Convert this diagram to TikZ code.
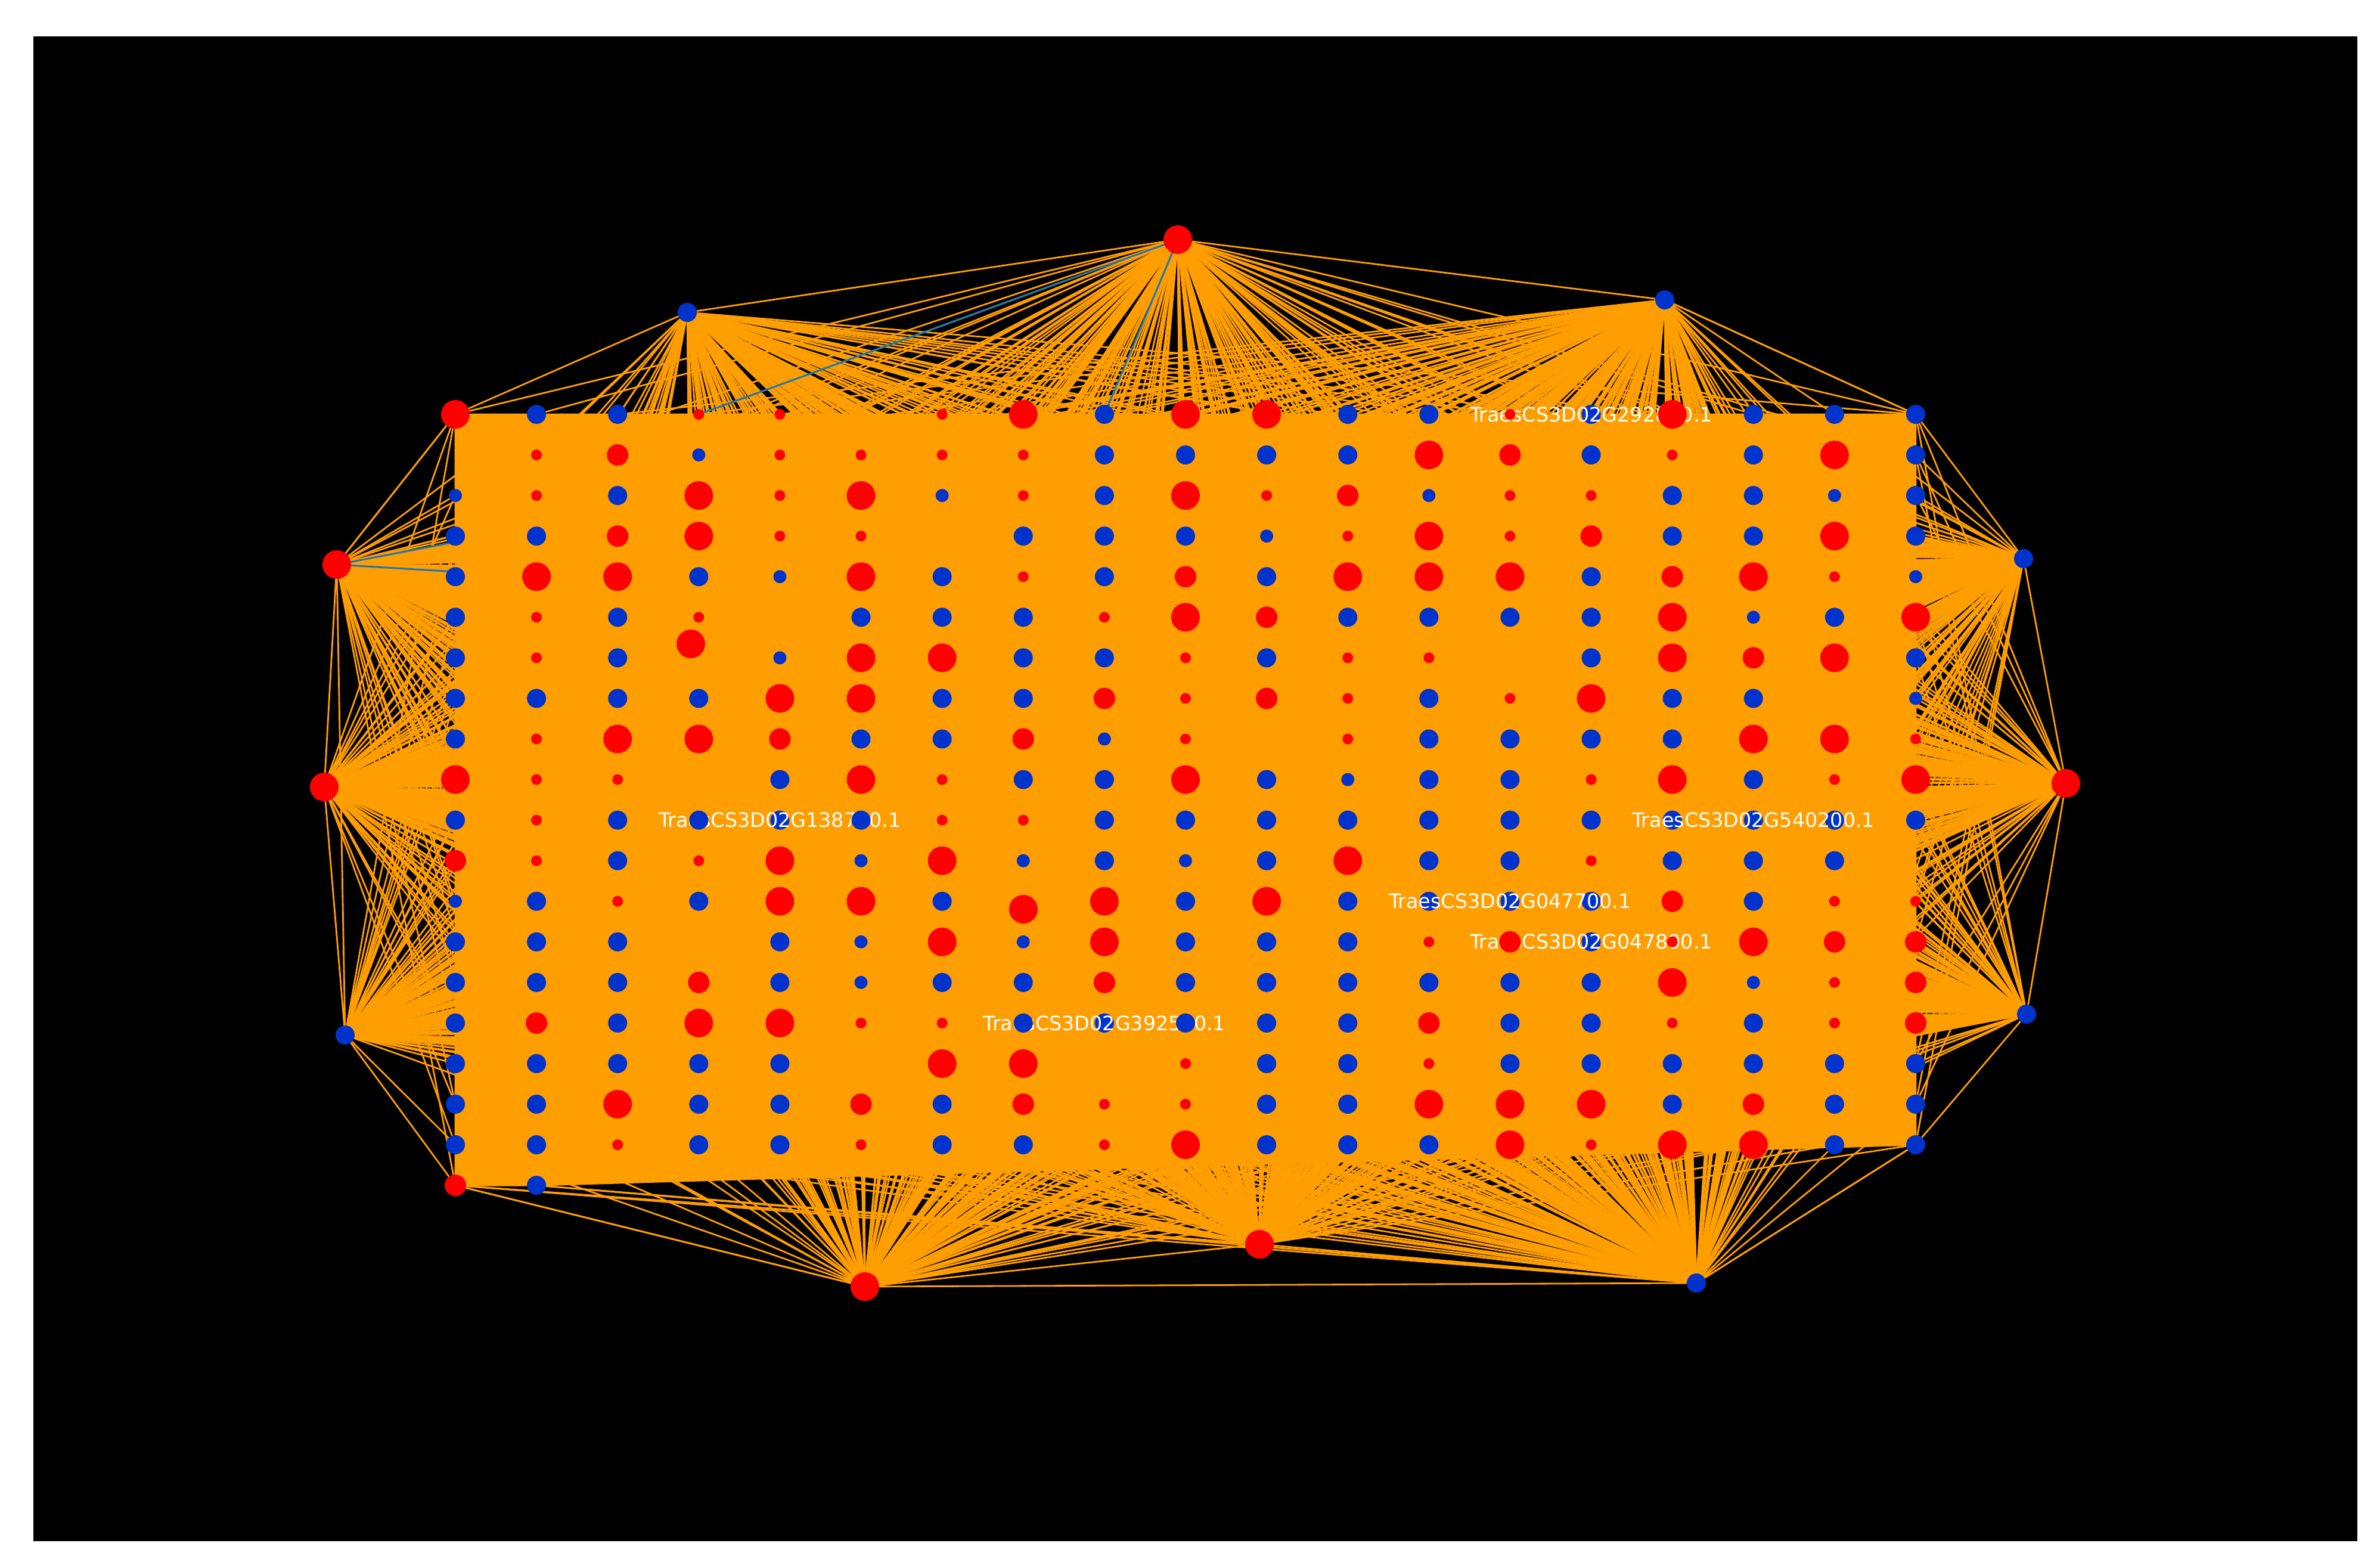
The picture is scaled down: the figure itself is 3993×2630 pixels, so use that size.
\documentclass[tikz,border=0pt]{standalone}
\usepackage{fontspec}
\newfontfamily\labfont{DejaVu Sans}
\definecolor{edgeorange}{RGB}{255,158,0}
\definecolor{nodered}{RGB}{255,0,0}
\definecolor{nodeblue}{RGB}{0,51,204}
\definecolor{edgeteal}{RGB}{31,119,180}
\pgfdeclarelayer{edgelayer}
\pgfsetlayers{edgelayer,main}
\def\gridlist{1/1/nrl,2/1/nbb,3/1/nbb,4/1/nrs,5/1/nrs,7/1/nrs,8/1/nrl,9/1/nbb,10/1/nrl,11/1/nrl,12/1/nbb,13/1/nbb,15/1/nbb,17/1/nbb,18/1/nbb,19/1/nbb,
2/2/nrs,3/2/nrm,4/2/nbs,5/2/nrs,6/2/nrs,7/2/nrs,8/2/nrs,9/2/nbb,10/2/nbb,11/2/nbb,12/2/nbb,13/2/nrl,14/2/nrm,15/2/nbb,16/2/nrs,17/2/nbb,18/2/nrl,19/2/nbb,
1/3/nbs,2/3/nrs,3/3/nbb,4/3/nrl,5/3/nrs,6/3/nrl,7/3/nbs,8/3/nrs,9/3/nbb,10/3/nrl,11/3/nrs,12/3/nrm,13/3/nbs,14/3/nrs,15/3/nrs,16/3/nbb,17/3/nbb,18/3/nbs,19/3/nbb,
1/4/nbb,2/4/nbb,3/4/nrm,4/4/nrl,5/4/nrs,6/4/nrs,8/4/nbb,9/4/nbb,10/4/nbb,11/4/nbs,12/4/nrs,13/4/nrl,14/4/nrs,15/4/nrm,16/4/nbb,17/4/nbb,18/4/nrl,19/4/nbb,
1/5/nbb,2/5/nrl,3/5/nrl,4/5/nbb,5/5/nbs,6/5/nrl,7/5/nbb,8/5/nrs,9/5/nbb,10/5/nrm,11/5/nbb,12/5/nrl,13/5/nrl,14/5/nrl,15/5/nbb,16/5/nrm,17/5/nrl,18/5/nrs,19/5/nbs,
1/6/nbb,2/6/nrs,3/6/nbb,4/6/nrs,6/6/nbb,7/6/nbb,8/6/nbb,9/6/nrs,10/6/nrl,11/6/nrm,12/6/nbb,13/6/nbb,14/6/nbb,15/6/nbb,16/6/nrl,17/6/nbs,18/6/nbb,19/6/nrl,
1/7/nbb,2/7/nrs,3/7/nbb,5/7/nbs,6/7/nrl,7/7/nrl,8/7/nbb,9/7/nbb,10/7/nrs,11/7/nbb,12/7/nrs,13/7/nrs,15/7/nbb,16/7/nrl,17/7/nrm,18/7/nrl,19/7/nbb,
1/8/nbb,2/8/nbb,3/8/nbb,4/8/nbb,5/8/nrl,6/8/nrl,7/8/nbb,8/8/nbb,9/8/nrm,10/8/nrs,11/8/nrm,12/8/nrs,13/8/nbb,14/8/nrs,15/8/nrl,16/8/nbb,17/8/nbb,19/8/nbs,
1/9/nbb,2/9/nrs,3/9/nrl,4/9/nrl,5/9/nrm,6/9/nbb,7/9/nbb,8/9/nrm,9/9/nbs,10/9/nrs,12/9/nrs,13/9/nbb,14/9/nbb,15/9/nbb,16/9/nbb,17/9/nrl,18/9/nrl,19/9/nrs,
1/10/nrl,2/10/nrs,3/10/nrs,5/10/nbb,6/10/nrl,7/10/nrs,8/10/nbb,9/10/nbb,10/10/nrl,11/10/nbb,12/10/nbs,13/10/nbb,14/10/nbb,15/10/nrs,16/10/nrl,17/10/nbb,18/10/nrs,19/10/nrl,
1/11/nbb,2/11/nrs,3/11/nbb,5/11/nbb,7/11/nrs,8/11/nrs,9/11/nbb,10/11/nbb,11/11/nbb,12/11/nbb,13/11/nbb,14/11/nbb,15/11/nbb,16/11/nbb,17/11/nbb,18/11/nbb,19/11/nbb,
1/12/nrm,2/12/nrs,3/12/nbb,4/12/nrs,5/12/nrl,6/12/nbs,7/12/nrl,8/12/nbs,9/12/nbb,10/12/nbs,11/12/nbb,12/12/nrl,13/12/nbb,14/12/nbb,15/12/nrs,16/12/nbb,17/12/nbb,18/12/nbb,
1/13/nbs,2/13/nbb,3/13/nrs,4/13/nbb,5/13/nrl,6/13/nrl,7/13/nbb,9/13/nrl,10/13/nbb,11/13/nrl,12/13/nbb,13/13/nbb,14/13/nbb,15/13/nbb,16/13/nrm,17/13/nbb,18/13/nrs,19/13/nrs,
1/14/nbb,2/14/nbb,3/14/nbb,5/14/nbb,6/14/nbs,7/14/nrl,8/14/nbs,9/14/nrl,10/14/nbb,11/14/nbb,12/14/nbb,13/14/nrs,15/14/nbb,17/14/nrl,18/14/nrm,19/14/nrm,
1/15/nbb,2/15/nbb,3/15/nbb,4/15/nrm,5/15/nbb,6/15/nbs,7/15/nbb,8/15/nbb,9/15/nrm,10/15/nbb,11/15/nbb,12/15/nbb,13/15/nbb,14/15/nbb,15/15/nbb,16/15/nrl,17/15/nbs,18/15/nrs,19/15/nrm,
1/16/nbb,2/16/nrm,3/16/nbb,4/16/nrl,5/16/nrl,6/16/nrs,7/16/nrs,9/16/nbb,11/16/nbb,12/16/nbb,13/16/nrm,14/16/nbb,15/16/nbb,16/16/nrs,17/16/nbb,18/16/nrs,19/16/nrm,
1/17/nbb,2/17/nbb,3/17/nbb,4/17/nbb,5/17/nbb,7/17/nrl,8/17/nrl,10/17/nrs,11/17/nbb,12/17/nbb,13/17/nrs,14/17/nbb,15/17/nbb,16/17/nbb,17/17/nbb,18/17/nbb,19/17/nbb,
1/18/nbb,2/18/nbb,3/18/nrl,4/18/nbb,5/18/nbb,6/18/nrm,7/18/nbb,8/18/nrm,9/18/nrs,10/18/nrs,11/18/nbb,12/18/nbb,13/18/nrl,14/18/nrl,15/18/nrl,16/18/nbb,17/18/nrm,18/18/nbb,19/18/nbb,
1/19/nbb,2/19/nbb,3/19/nrs,4/19/nbb,5/19/nbb,6/19/nrs,7/19/nbb,8/19/nbb,9/19/nrs,10/19/nrl,11/19/nbb,12/19/nbb,13/19/nbb,14/19/nrl,15/19/nrs,16/19/nrl,17/19/nrl,18/19/nbb,19/19/nbb,
1/20/nrm,2/20/nbb}
\def\toplist{14/1/nrs,16/1/nrl,4/11/nbb,6/11/nbb,14/14/nrm,16/14/nrs,8/16/nbb,10/16/nbb}
\begin{document}
\begin{tikzpicture}[x=0.1mm,y=-0.1mm,
  gnode/.style={circle,inner sep=0pt,outer sep=0pt,draw=none},
  nrs/.style={gnode,fill=nodered,minimum size=1.8mm},
  nrm/.style={gnode,fill=nodered,minimum size=3.6mm},
  nrl/.style={gnode,fill=nodered,minimum size=4.8mm},
  nbb/.style={gnode,fill=nodeblue,minimum size=3.2mm},
  nbs/.style={gnode,fill=nodeblue,minimum size=2.2mm},
  fan/.style={draw=edgeorange,line width=0.28mm},
  tealedge/.style={draw=edgeteal,line width=0.3mm},
  lab/.style={text=white,font=\labfont\fontsize{9.5}{11}\selectfont,inner sep=0pt}]
\useasboundingbox (0,0) rectangle (3993,2630);
% grid nodes
\foreach \c/\r/\k in \gridlist {
  \node[\k] (g\c-\r) at ({764+(\c-1)*136.11},{695+(\r-1)*68.06}) {};
}
\node[nrl] (g4-7) at (1159,1080) {};
\node[nrl] (g8-13) at (1717,1525) {};
% outer nodes
\node[nrl] (T) at (1976,402) {};
\node[nbb] (TL) at (1153,524) {};
\node[nbb] (TR) at (2793,503) {};
\node[nrl] (L1) at (565,947) {};
\node[nrl] (L2) at (544,1320) {};
\node[nbb] (L3) at (579,1736) {};
\node[nrl] (B1) at (1451,2158) {};
\node[nrl] (B2) at (2113,2087) {};
\node[nbb] (B3) at (2846,2152) {};
\node[nbb] (R1) at (3395,937) {};
\node[nrl] (R2) at (3466,1314) {};
\node[nbb] (R3) at (3400,1701) {};
% labels
\node[lab] (lab1) at (g15-1) {TraesCS3D02G292800.1};
\node[lab] (lab2) at (g5-11) {TraesCS3D02G138700.1};
\node[lab] (lab3) at (g17-11) {TraesCS3D02G540200.1};
\node[lab] (lab4) at (g14-13) {TraesCS3D02G047700.1};
\node[lab] (lab5) at (g15-14) {TraesCS3D02G047800.1};
\node[lab] (lab6) at (g9-16) {TraesCS3D02G392500.1};
% nodes drawn over the labels
\foreach \c/\r/\k in \toplist {
  \node[\k] (g\c-\r) at ({764+(\c-1)*136.11},{695+(\r-1)*68.06}) {};
}
% edges
\begin{pgfonlayer}{edgelayer}
  \fill[white] (0,0) rectangle (3993,2630);
  \fill[black] (56,61) rectangle (3955,2585);
  \foreach \o [count=\i] in {T,TL,TR,L1,L2,L3,B1,B2,B3,R1,R2,R3} {
    \foreach \c/\r/\k in \gridlist {
      \pgfmathtruncatemacro\h{mod(3*\c*\c+7*\r+11*\i+\c*\r,5)}
      \ifnum\h<3 \draw[fan] (\o) -- (g\c-\r);\fi
    }
    \draw[fan] foreach \c/\r/\k in \toplist {(\o) -- (g\c-\r)}
      (\o) -- (g4-7) (\o) -- (g8-13);
  }
  \draw[fan] (TL) -- (T) (T) -- (TR) (L1) -- (L2) (L2) -- (L3) (L1) -- (L3)
    (B1) -- (B2) (B2) -- (B3) (B1) -- (B3) (R1) -- (R2) (R2) -- (R3)
    (TL) -- (g1-1) (TR) -- (g19-1) (L1) -- (g1-1) (L3) -- (g1-20)
    (B1) -- (g1-20) (B3) -- (g19-19) (R3) -- (g19-19) (R1) -- (g19-1);
  \draw[tealedge] (T) -- (g4-1) (T) -- (g9-1) (L1) -- (g4-3) (L1) -- (g2-5);
  \filldraw[fan,fill=edgeorange] (g1-1.center) -- (g19-1.center) -- (g19-19.center)
    -- (g2-20.center) -- (g1-20.center) -- cycle;
\end{pgfonlayer}
\end{tikzpicture}
\end{document}
